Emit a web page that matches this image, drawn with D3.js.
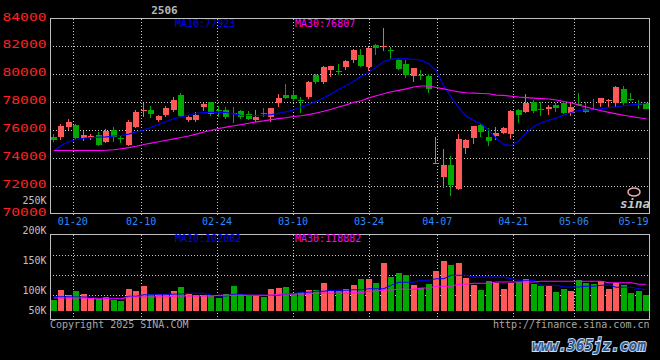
<!DOCTYPE html>
<html><head><meta charset="utf-8">
<script src="https://cdn.jsdelivr.net/npm/d3@7"></script>
<style>
html,body{margin:0;padding:0;background:#000;}
svg{display:block}
text{font-family:"DejaVu Sans Mono",monospace;}
</style></head><body>
<svg id="c" width="660" height="360"></svg>
<script>
const dates = ["01-15","01-16","01-17","01-20","01-21","01-22","01-23","01-24","01-27",
"02-05","02-06","02-07","02-10","02-11","02-12","02-13","02-14","02-17","02-18","02-19","02-20","02-21","02-24","02-25","02-26","02-27","02-28",
"03-03","03-04","03-05","03-06","03-07","03-10","03-11","03-12","03-13","03-14","03-17","03-18","03-19","03-20","03-21","03-24","03-25","03-26","03-27","03-28","03-31",
"04-01","04-02","04-03","04-07","04-08","04-09","04-10","04-11","04-14","04-15","04-16","04-17","04-18","04-21","04-22","04-23","04-24","04-25","04-28","04-29","04-30",
"05-06","05-07","05-08","05-09","05-12","05-13","05-14","05-15","05-16","05-19","05-20"];

const open = [75470,75500,76180,76320,75410,75390,75650,75130,76010,75420,
74940,76200,77380,77420,76730,77090,77450,78480,76700,76710,
77620,78000,77430,77430,77240,77380,77140,76710,77240,76950,
77900,78480,78480,78120,78380,79930,79430,80290,80260,80520,
81000,81360,80520,82070,81980,81710,81000,80710,79860,79950,
79860,73600,72600,73460,71790,74710,75430,76330,75480,75550,
75810,75700,77430,77290,78000,77500,77520,77790,77950,77190,
77860,77480,77500,77950,78120,77900,78930,78240,77880,77950];
const high = [75720,76420,76750,76420,75940,75700,75820,76040,76180,75560,
76680,77420,77900,77690,77100,77710,78330,78620,77100,77300,
77900,78000,77710,77620,77620,77430,77360,77430,77550,77570,
78570,79290,78900,78330,79500,80000,80570,80570,80710,81050,
81830,81830,81950,82140,83300,81950,81190,81050,80480,80290,
80000,75510,74620,74100,75710,75360,76290,76480,76120,76240,
76240,77430,77480,78570,78140,78000,77810,77900,78100,78000,
78620,78000,78240,78290,78240,79140,79140,78620,78140,78000];
const low = [75100,75300,75980,75360,75180,75270,74860,75050,75120,75050,
74850,76130,76950,76850,76550,76930,77280,76900,76600,76600,
77380,77000,76950,76760,76520,76790,76710,76600,76950,76600,
77620,78240,78100,77240,78240,79290,79330,79810,79930,80290,
80810,80520,80240,81380,81670,81070,80330,79760,79450,79570,
78670,73570,71840,71290,71670,74290,75000,75480,74860,75290,
75720,75330,76520,77190,77190,77000,77050,77310,77120,77020,
77710,77240,77430,77670,77670,77670,77760,78100,77520,77480];
const close = [75250,76300,76560,75410,75650,75580,74930,75940,75460,75380,
76540,77280,77420,77160,76970,77570,78150,77000,76900,77070,
77860,77120,77380,76930,77170,76900,76790,76950,77120,77570,
78290,78290,78190,78070,79430,79430,80520,80570,80220,80930,
81710,80570,81860,81900,82020,81640,80400,79930,80480,79880,
78910,73620,73460,72070,75360,75290,76290,75880,75240,75760,
76170,77330,77100,77950,77380,77450,77670,77570,77190,77620,
77810,77310,77450,78290,78170,79050,77900,78170,77830,77520];

const ma10 = [74500,74880,75150,75330,75400,75450,75480,75500,75560,75600,
75700,75850,76000,76200,76400,76600,76800,76950,77050,77200,
77250,77260,77260,77250,77150,77050,77040,77040,77050,77100,
77200,77300,77450,77650,77850,78050,78300,78600,78900,79200,
79500,79850,80150,80500,80900,81080,81100,81100,81070,81000,
80750,80250,79150,78350,77600,77000,76680,76420,76000,75400,
74950,74880,75200,75800,76250,76520,76700,76850,77050,77250,
77400,77430,77460,77520,77600,77660,77740,77800,77850,77923];
const ma30 = [74520,74520,74520,74520,74520,74520,74520,74540,74580,74650,
74730,74830,74950,75050,75150,75260,75360,75460,75560,75700,
75850,75980,76100,76200,76300,76380,76480,76580,76650,76740,
76810,76880,76960,77020,77100,77220,77340,77480,77640,77800,
77980,78100,78300,78450,78600,78740,78840,78950,79080,79150,
79150,79050,78950,78830,78730,78670,78640,78620,78600,78500,
78480,78420,78360,78320,78280,78250,78220,78150,78040,77950,
77780,77650,77500,77380,77260,77150,77050,76960,76880,76807];

const volume = [85000,101200,93300,99500,94500,88300,86700,88800,85000,83300,
102800,99500,107800,94500,94500,94500,99500,106200,95000,92300,
92300,92300,88300,94500,107800,94500,92300,90700,89500,102800,
104500,106200,94000,97800,100700,100700,112800,99000,99000,102800,
109500,119500,119500,113300,146700,122300,129000,126200,109500,104000,
111200,133300,150000,143300,146700,121700,109500,101200,116200,112300,
102800,112300,114000,119500,110700,108300,108300,98300,102800,100000,
117800,113300,110700,116200,102800,112300,109500,96700,100000,92800];
const volMa10 = [90000,90000,89700,89500,89500,89000,88000,87500,87300,87300,
90700,90700,93300,93300,93300,93300,94500,94500,95700,95700,
95700,92300,91200,91200,94000,94000,92300,92300,92300,92300,
92300,94500,94500,97300,97300,99000,99000,100700,100700,100700,
101700,101700,103300,103300,103300,109000,114000,114000,114000,117300,
117300,120000,120000,125700,125700,125700,122800,122800,122800,122800,
122800,120000,117300,117300,117300,109000,109000,109000,106200,106200,
106200,107300,107300,109000,109000,105700,105700,105700,103300,102100];
const volMa30 = [87800,87800,87800,87800,87800,86700,86700,86700,86700,86700,
89500,89500,89500,89500,89500,89500,91200,91200,91200,91200,
91200,91200,92300,92300,92300,92300,92300,92300,92300,92300,
94500,94500,94500,94500,94500,96200,96200,96200,96200,96200,
96700,96700,99000,99000,101200,101200,102300,102300,102300,104500,
104500,107300,107300,107300,110700,110700,112300,112300,112300,114500,
114500,114500,114500,114500,114500,115700,115700,115700,115700,115700,
115700,115700,115700,115700,113300,113300,113300,113300,110700,110700];

const priceTicks = [84000,82000,80000,78000,76000,74000,72000,70000];
const priceGrid = [82000,80000,78000,76000,74000,72000];
const volTicks = [250000,200000,150000,100000,50000];
const volTickLabels = ["250K","200K","150K","100K","50K"];
const dateTicks = ["01-20","02-10","02-24","03-10","03-24","04-07","04-21","05-06","05-19"];
const legendNames = ["MA10","MA30"];
const priceLegend = [77923,76807];
const volLegend = [102082,118882];
const title = "2506";

const RED = "#ff5858", GREEN = "#00a800", BLUE = "#0000ff", MAG = "#ff00ff", GRID = "#c8c8c8";
const svg = d3.select("#c");
svg.append("rect").attr("width",660).attr("height",360).attr("fill","#000");

const L = 50, R = 650;
const pTop = 18.5, pBot = 213.5, vTop = 234.5, vBot = 319.5, vBase = 311;
const x = d3.scaleBand().domain(dates).range([L, R]);
const xg = d3.scalePoint().domain(dates).range([L, R]);
const cx = d => x(d) + x.bandwidth()/2;
const yP = d3.scaleLinear().domain([70000, 84000]).range([pBot, pTop]);
const yV = d3.scaleLinear().domain([100000, 200000]).range([290.7, 230.7]);

const g = svg.append("g");
const dotted = sel => sel.attr("stroke", GRID).attr("stroke-width",1).attr("stroke-dasharray","1,2").attr("shape-rendering","crispEdges");
g.selectAll(".hg").data(priceGrid).enter().append("line")
  .attr("x1", L).attr("x2", R-1).attr("y1", d=>Math.round(yP(d))+0.5).attr("y2", d=>Math.round(yP(d))+0.5).call(dotted);
const vGridDates = dateTicks.slice(0, -1);
g.selectAll(".vg").data(vGridDates).enter().append("line")
  .attr("x1", d=>Math.round(xg(d))+0.5).attr("x2", d=>Math.round(xg(d))+0.5)
  .attr("y1", pTop).attr("y2", pBot+2).call(dotted);
g.selectAll(".vg2").data(vGridDates).enter().append("line")
  .attr("x1", d=>Math.round(xg(d))+0.5).attr("x2", d=>Math.round(xg(d))+0.5)
  .attr("y1", vTop).attr("y2", vBot+1).call(dotted);
[21,41,61].forEach(o=>{
  g.append("line").attr("x1",L).attr("x2",R-1).attr("y1",vTop+o).attr("y2",vTop+o).call(dotted);
});

const idx = d3.range(dates.length);
const cg = svg.append("g");
cg.selectAll(".wick").data(idx).enter().append("line")
  .attr("x1", i=>Math.round(cx(dates[i]))-0.5).attr("x2", i=>Math.round(cx(dates[i]))-0.5)
  .attr("y1", i=>yP(high[i])).attr("y2", i=>yP(low[i]))
  .attr("stroke", i=> close[i]>=open[i]?RED:GREEN).attr("stroke-width",1).attr("shape-rendering","crispEdges");
cg.selectAll(".body").data(idx).enter().append("rect")
  .attr("x", i=>Math.round(cx(dates[i]))-3).attr("width",6)
  .attr("y", i=>yP(Math.max(open[i],close[i])))
  .attr("height", i=>Math.max(1, Math.abs(yP(open[i])-yP(close[i]))))
  .attr("fill", i=> close[i]>=open[i]?RED:GREEN).attr("shape-rendering","crispEdges");

const lineP = arr => d3.line().x((d,i)=>cx(dates[i])).y(d=>yP(d))(arr);
svg.append("path").attr("d", lineP(ma10)).attr("fill","none").attr("stroke",BLUE).attr("stroke-width",1.1);
svg.append("path").attr("d", lineP(ma30)).attr("fill","none").attr("stroke",MAG).attr("stroke-width",1.1);

svg.selectAll(".vb").data(idx).enter().append("rect")
  .attr("x", i=>Math.round(cx(dates[i]))-3).attr("width",6)
  .attr("y", i=>yV(volume[i])).attr("height", i=>vBase - yV(volume[i]))
  .attr("fill", i=> close[i]>=open[i]?RED:GREEN).attr("shape-rendering","crispEdges");
const lineV = arr => d3.line().x((d,i)=>cx(dates[i])).y(d=>yV(d))(arr);
svg.append("path").attr("d", lineV(volMa10)).attr("fill","none").attr("stroke",BLUE).attr("stroke-width",1.1);
svg.append("path").attr("d", lineV(volMa30)).attr("fill","none").attr("stroke",MAG).attr("stroke-width",1.1);

const border = "#c0c0c0";
svg.append("rect").attr("x",L+0.5).attr("y",pTop).attr("width",R-L-1).attr("height",pBot-pTop)
  .attr("fill","none").attr("stroke",border).attr("stroke-width",1).attr("shape-rendering","crispEdges");
svg.append("rect").attr("x",L+0.5).attr("y",vTop).attr("width",R-L-1).attr("height",vBot-vTop)
  .attr("fill","none").attr("stroke",border).attr("stroke-width",1).attr("shape-rendering","crispEdges");

svg.selectAll(".pl").data(priceTicks).enter().append("text")
  .attr("x", 2.5).attr("y", d=>Math.round(yP(d))+2.3)
  .attr("font-size",10).attr("fill","#ff2020")
  .attr("textLength",44).attr("lengthAdjust","spacingAndGlyphs")
  .text(d=>d);
svg.selectAll(".vl").data(volTicks).enter().append("text")
  .attr("x", 46.5).attr("y", d=>Math.min(yV(d)+3.3, 314))
  .attr("text-anchor","end").attr("font-size",10).attr("fill","#c0c0c0")
  .text((d,i)=>volTickLabels[i]);
svg.selectAll(".dl").data(dateTicks).enter().append("text")
  .attr("x", d=>Math.min(xg(d), R-1-15.5)).attr("y",225)
  .attr("text-anchor","middle").attr("font-size",10).attr("fill","#2a8cff")
  .text(d=>d);

const legX = [175, 295], legC = [BLUE, MAG];
legendNames.forEach((n,k)=>{
  svg.append("text").attr("x",legX[k]).attr("y",26.5).attr("font-size",10).attr("fill",legC[k])
    .text(n+":"+priceLegend[k]);
  svg.append("text").attr("x",legX[k]).attr("y",242).attr("font-size",10).attr("fill",legC[k])
    .text(n+":"+volLegend[k]);
});

svg.append("text").attr("x",164.5).attr("y",14).attr("text-anchor","middle")
  .attr("font-size",11).attr("font-weight","bold").attr("fill","#b8b8b8").text(title);

svg.append("text").attr("x",50).attr("y",327.5).attr("font-size",10).attr("fill","#a8a8a8")
  .text("Copyright 2025 SINA.COM");
svg.append("text").attr("x",649.5).attr("y",327.5).attr("text-anchor","end").attr("font-size",10).attr("fill","#a8a8a8")
  .text("http://finance.sina.com.cn");

svg.append("ellipse").attr("cx",634).attr("cy",192).attr("rx",6).attr("ry",4)
  .attr("fill","none").attr("stroke","#f0a8b0").attr("stroke-width",1.5);
svg.append("text").attr("x",620).attr("y",208).attr("font-family","DejaVu Sans")
  .attr("font-style","italic").attr("font-weight","bold").attr("font-size",13).attr("fill","#c8c8c8")
  .attr("textLength",30).attr("lengthAdjust","spacingAndGlyphs").text("sina");

svg.append("text").attr("x",532).attr("y",351).attr("font-family","DejaVu Sans")
  .attr("font-style","italic").attr("font-weight","bold").attr("font-size",16)
  .attr("fill","#2f5a92").attr("stroke","#c8d8ee").attr("stroke-width",2).attr("paint-order","stroke")
  .attr("textLength",114).attr("lengthAdjust","spacingAndGlyphs").text("www.365jz.com");
</script>
</body></html>
